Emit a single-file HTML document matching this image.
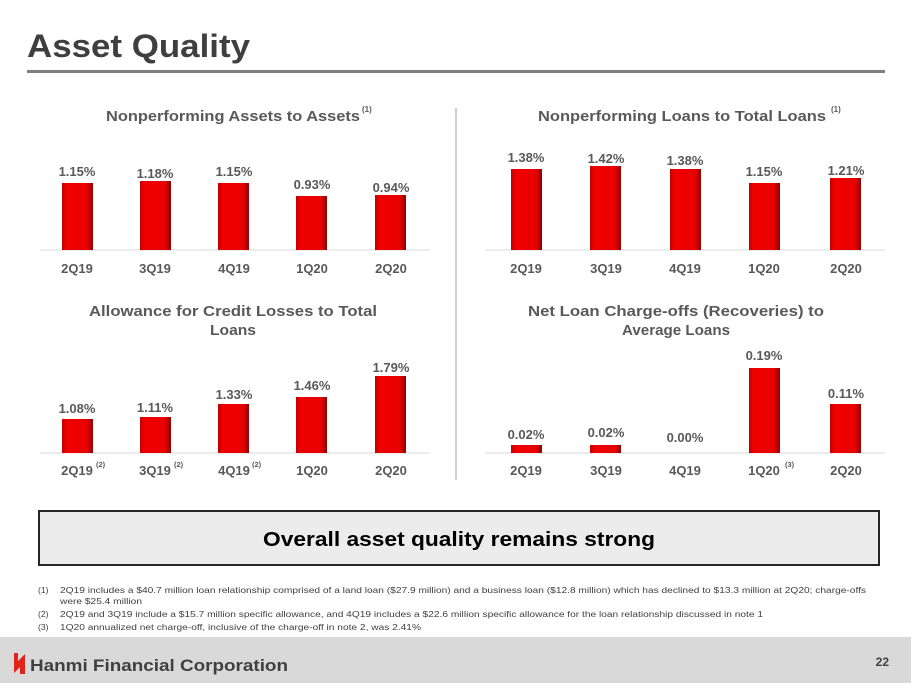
<!DOCTYPE html>
<html><head><meta charset="utf-8"><style>
body{margin:0;width:911px;height:683px;background:#fff;position:relative;overflow:hidden;font-family:"Liberation Sans",Arial,sans-serif}
svg{position:absolute;left:0;top:0}
</style></head><body>
<svg width="911" height="683" viewBox="0 0 911 683" font-family="Liberation Sans, Arial, sans-serif">
<defs>
<linearGradient id="g" x1="0" x2="1" y1="0" y2="0">
<stop offset="0" stop-color="#c00000"/><stop offset="0.15" stop-color="#f00000"/><stop offset="0.8" stop-color="#e80000"/><stop offset="1" stop-color="#900000"/></linearGradient>
</defs>
<text x="27" y="57" font-size="32" font-weight="bold" fill="#3f3f3f" textLength="223" lengthAdjust="spacingAndGlyphs">Asset Quality</text>
<rect x="27" y="70" width="858" height="3" fill="#7f7f7f"/>
<line x1="456" y1="108" x2="456" y2="480" stroke="#bfbfbf" stroke-width="1.5"/>
<g font-size="14.5" font-weight="bold" fill="#595959">
<text x="106" y="121" textLength="254" lengthAdjust="spacingAndGlyphs">Nonperforming Assets to Assets</text><text x="362" y="112" font-size="8">(1)</text>
<text x="538" y="121" textLength="288" lengthAdjust="spacingAndGlyphs">Nonperforming Loans to Total Loans</text><text x="831" y="112" font-size="8">(1)</text>
<text x="89" y="316" textLength="288" lengthAdjust="spacingAndGlyphs">Allowance for Credit Losses to Total</text><text x="233" y="335" text-anchor="middle" textLength="46" lengthAdjust="spacingAndGlyphs">Loans</text>
<text x="528" y="316" textLength="296" lengthAdjust="spacingAndGlyphs">Net Loan Charge-offs (Recoveries) to</text><text x="676" y="335" text-anchor="middle" textLength="108" lengthAdjust="spacingAndGlyphs">Average Loans</text>
</g>
<g stroke="#d9d9d9" stroke-width="1">
<line x1="40" y1="250" x2="430" y2="250"/><line x1="485" y1="250" x2="885" y2="250"/>
<line x1="40" y1="453" x2="430" y2="453"/><line x1="485" y1="453" x2="885" y2="453"/>
</g>
<g fill="url(#g)">
<rect x="62" y="183" width="31" height="67"/><rect x="140" y="181" width="31" height="69"/><rect x="218" y="183" width="31" height="67"/><rect x="296" y="196" width="31" height="54"/><rect x="375" y="195" width="31" height="55"/>
<rect x="511" y="169" width="31" height="81"/><rect x="590" y="166" width="31" height="84"/><rect x="670" y="169" width="31" height="81"/><rect x="749" y="183" width="31" height="67"/><rect x="830" y="178" width="31" height="72"/>
<rect x="62" y="419" width="31" height="34"/><rect x="140" y="417" width="31" height="36"/><rect x="218" y="404" width="31" height="49"/><rect x="296" y="397" width="31" height="56"/><rect x="375" y="376" width="31" height="77"/>
<rect x="511" y="445" width="31" height="8"/><rect x="590" y="445" width="31" height="8"/><rect x="749" y="368" width="31" height="85"/><rect x="830" y="404" width="31" height="49"/>
</g>
<g font-size="13" font-weight="bold" fill="#595959" text-anchor="middle">
<text x="77" y="176">1.15%</text><text x="155" y="178">1.18%</text><text x="234" y="176">1.15%</text><text x="312" y="189">0.93%</text><text x="391" y="192">0.94%</text>
<text x="526" y="162">1.38%</text><text x="606" y="163">1.42%</text><text x="685" y="165">1.38%</text><text x="764" y="176">1.15%</text><text x="846" y="175">1.21%</text>
<text x="77" y="413">1.08%</text><text x="155" y="412">1.11%</text><text x="234" y="399">1.33%</text><text x="312" y="390">1.46%</text><text x="391" y="372">1.79%</text>
<text x="526" y="439">0.02%</text><text x="606" y="437">0.02%</text><text x="685" y="442">0.00%</text><text x="764" y="360">0.19%</text><text x="846" y="398">0.11%</text>
<text x="77" y="273">2Q19</text><text x="155" y="273">3Q19</text><text x="234" y="273">4Q19</text><text x="312" y="273">1Q20</text><text x="391" y="273">2Q20</text>
<text x="526" y="273">2Q19</text><text x="606" y="273">3Q19</text><text x="685" y="273">4Q19</text><text x="764" y="273">1Q20</text><text x="846" y="273">2Q20</text>
<text x="77" y="475">2Q19</text><text x="155" y="475">3Q19</text><text x="234" y="475">4Q19</text><text x="312" y="475">1Q20</text><text x="391" y="475">2Q20</text>
<text x="526" y="475">2Q19</text><text x="606" y="475">3Q19</text><text x="685" y="475">4Q19</text><text x="764" y="475">1Q20</text><text x="846" y="475">2Q20</text>
</g>
<g font-size="7.5" font-weight="bold" fill="#595959">
<text x="96" y="467">(2)</text><text x="174" y="467">(2)</text><text x="252" y="467">(2)</text><text x="785" y="467">(3)</text>
</g>
<rect x="39" y="511" width="840" height="54" fill="#ececec" stroke="#262626" stroke-width="2"/>
<text x="263" y="546" font-size="20" font-weight="bold" fill="#000" textLength="392" lengthAdjust="spacingAndGlyphs">Overall asset quality remains strong</text>
<g font-size="8.6" fill="#404040">
<text x="38" y="593">(1)</text><text x="60" y="593" textLength="806" lengthAdjust="spacingAndGlyphs">2Q19 includes a $40.7 million loan relationship comprised of a land loan ($27.9 million) and a business loan ($12.8 million) which has declined to $13.3 million at 2Q20; charge-offs</text>
<text x="60" y="604" textLength="82" lengthAdjust="spacingAndGlyphs">were $25.4 million</text>
<text x="38" y="617">(2)</text><text x="60" y="617" textLength="703" lengthAdjust="spacingAndGlyphs">2Q19 and 3Q19 include a $15.7 million specific allowance, and 4Q19 includes a $22.6 million specific allowance for the loan relationship discussed in note 1</text>
<text x="38" y="630">(3)</text><text x="60" y="630" textLength="361" lengthAdjust="spacingAndGlyphs">1Q20 annualized net charge-off, inclusive of the charge-off in note 2, was 2.41%</text>
</g>
<rect x="0" y="637" width="911" height="46" fill="#d9d9d9"/>
<path d="M14 653 L18 653 L18 661 L25 654 L25 674 L20 674 L20 667 L14 673 Z" fill="#e2231a"/>
<text x="30" y="671" font-size="17" font-weight="bold" fill="#404040" textLength="258" lengthAdjust="spacingAndGlyphs">Hanmi Financial Corporation</text>
<text x="889" y="666" font-size="12" font-weight="bold" fill="#404040" text-anchor="end">22</text>
</svg>
</body></html>
